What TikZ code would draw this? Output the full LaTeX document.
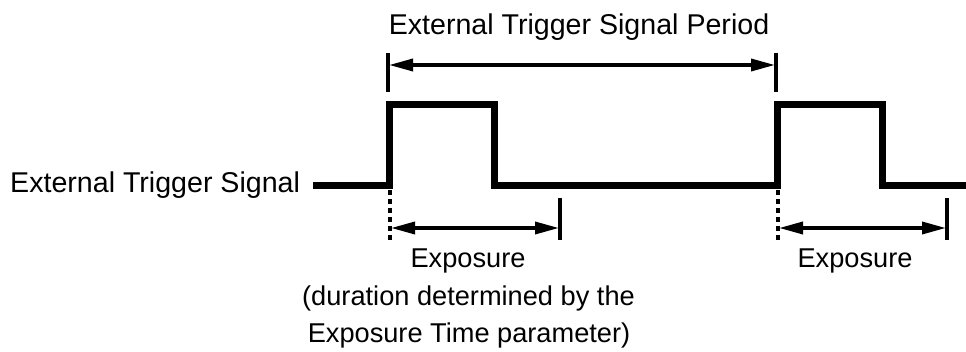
\documentclass[tikz,border=0pt]{standalone}
\usepackage{fontspec}
\setmainfont{Liberation Sans}
\usetikzlibrary{arrows.meta}
\tikzset{
  sig/.style={line width=7pt, line join=miter, line cap=butt},
  tickline/.style={line width=4pt},
  dim/.style={line width=3.5pt, {Triangle[length=24pt,width=12pt]}-{Triangle[length=24pt,width=12pt]}, shorten <=1pt, shorten >=1pt},
  dotline/.style={line width=4pt, dash pattern=on 5pt off 4pt},
  biglabel/.style={font=\fontsize{28.6}{34}\selectfont, inner sep=0pt, anchor=base},
  smalllabel/.style={font=\fontsize{27.2}{36}\selectfont, inner sep=0pt, anchor=base},
}
\begin{document}
\begin{tikzpicture}[x=1pt,y=-1pt]
\useasboundingbox (0,0) rectangle (966,352);
% signal waveform
\coordinate (s0) at (313,185.5);
\coordinate (r1) at (389.5,185.5);
\coordinate (f1) at (494.5,185.5);
\coordinate (r2) at (777,185.5);
\coordinate (f2) at (882,185.5);
\coordinate (s1) at (966,185.5);
\draw[sig] (s0) -- (r1) -- ++(0,-81) -| (f1) -- (r2) -- ++(0,-81) -| (f2) -- (s1);
% labels
\node[biglabel, anchor=base west] (sigl) at (10,193) {External Trigger Signal};
\node[biglabel] (perl) at (579,35) {External Trigger Signal Period};
% period dimension
\coordinate (pt1a) at (388,53); \coordinate (pt1b) at (388,92);
\coordinate (pt2a) at (776,53); \coordinate (pt2b) at (776,92);
\draw[tickline] (pt1a) -- (pt1b);
\draw[tickline] (pt2a) -- (pt2b);
\coordinate (pa) at (388,65); \coordinate (pb) at (776,65);
\draw[dim] (pa) -- (pb);
% exposure 1
\coordinate (d1a) at (390,190); \coordinate (d1b) at (390,242);
\draw[dotline] (d1a) -- (d1b);
\coordinate (e1t1) at (560,198); \coordinate (e1t2) at (560,240);
\draw[tickline] (e1t1) -- (e1t2);
\coordinate (e1a) at (390,228); \coordinate (e1b) at (560,228);
\draw[dim] (e1a) -- (e1b);
\node[smalllabel] (exl1) at (468,268) {Exposure};
\node[smalllabel] (exd1) at (468.5,306) {(duration determined by the};
\node[smalllabel] (exd2) at (469,342) {Exposure Time parameter)};
% exposure 2
\coordinate (d2a) at (778,190); \coordinate (d2b) at (778,242);
\draw[dotline] (d2a) -- (d2b);
\coordinate (e2t1) at (947,198); \coordinate (e2t2) at (947,240);
\draw[tickline] (e2t1) -- (e2t2);
\coordinate (e2a) at (778,228); \coordinate (e2b) at (947,228);
\draw[dim] (e2a) -- (e2b);
\node[smalllabel] (exl2) at (855,268) {Exposure};
\end{tikzpicture}
\end{document}
